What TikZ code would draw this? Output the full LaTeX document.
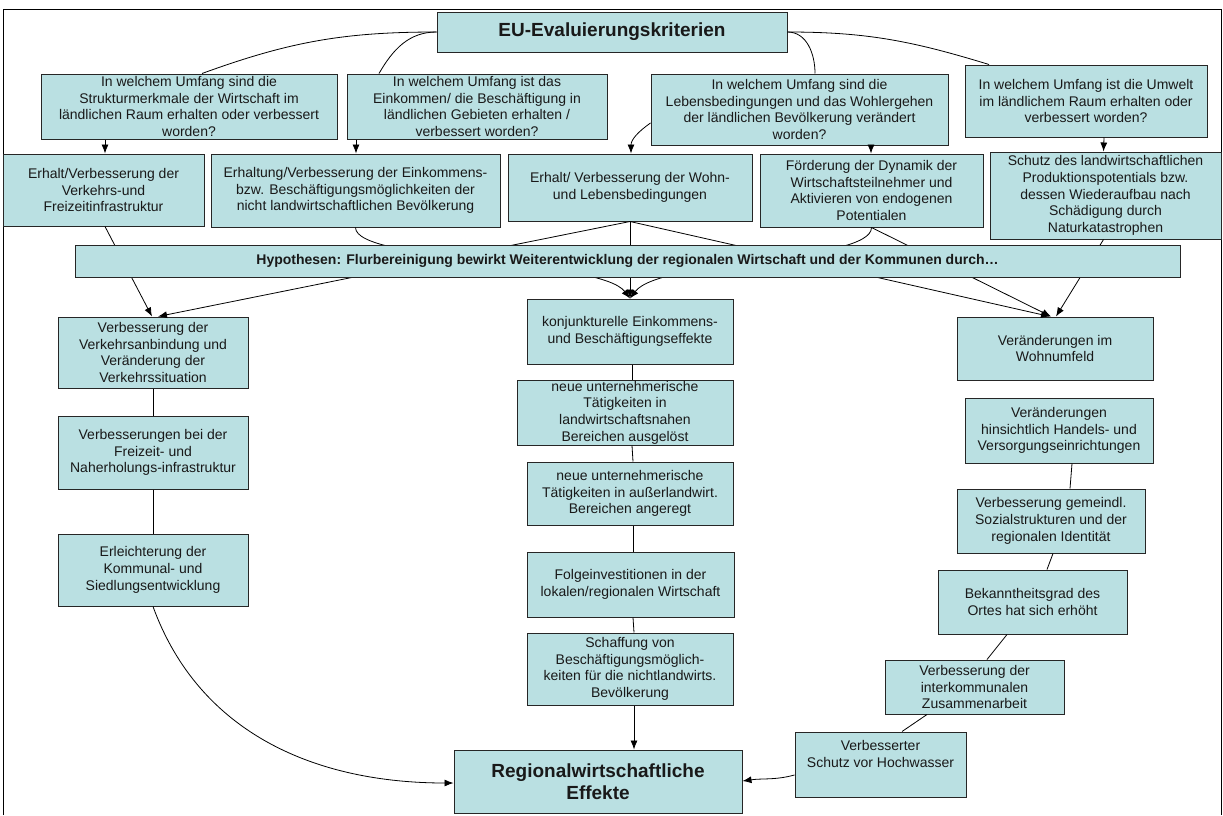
\documentclass[tikz,border=0pt]{standalone}
\usepackage{fontspec}
\setmainfont{Liberation Sans}
\usetikzlibrary{arrows.meta}
\definecolor{boxfill}{RGB}{186,224,226}
\begin{document}
\begin{tikzpicture}[x=1pt,y=1pt,
  box/.style={draw=black!85, line width=1pt, fill=boxfill, align=center, inner sep=0pt,
    font=\fontsize{14}{16.7}\selectfont, text=black!90},
  con/.style={line width=0.8pt, black},
  arr/.style={con, -{Latex[length=9pt,width=7pt]}},
]
\useasboundingbox (0,0) rectangle (1223,-815);
\draw[line width=0.8pt] (3,-815) -- (3,-9) -- (1221,-9) -- (1221,-815);

% top
\node[box, minimum width=350pt, minimum height=40pt, font=\fontsize{19}{22}\selectfont\bfseries] (eu) at (612,-32) {EU-Evaluierungskriterien};
\node[box, minimum width=296pt, minimum height=65pt] (q1) at (189,-106.5) {In welchem Umfang sind die\\Strukturmerkmale der Wirtschaft im\\ländlichen Raum erhalten oder verbessert\\worden?};
\node[box, minimum width=260pt, minimum height=65pt] (q2) at (477,-106.5) {In welchem Umfang ist das\\Einkommen/ die Beschäftigung in\\ländlichen Gebieten erhalten /\\verbessert worden?};
\node[box, minimum width=297pt, minimum height=71pt] (q3) at (799.5,-109.5) {In welchem Umfang sind die\\Lebensbedingungen und das Wohlergehen\\der ländlichen Bevölkerung verändert\\worden?};
\node[box, minimum width=242pt, minimum height=72pt] (q4) at (1086,-101) {In welchem Umfang ist die Umwelt\\im ländlichem Raum erhalten oder\\verbessert worden?};

% row 2
\node[box, minimum width=201pt, minimum height=72pt] (a) at (103.5,-190) {Erhalt/Verbesserung der\\Verkehrs-und\\Freizeitinfrastruktur};
\node[box, minimum width=289pt, minimum height=73pt] (b) at (355.5,-190.5) {Erhaltung/Verbesserung der Einkommens-\\bzw. Beschäftigungsmöglichkeiten der\\nicht landwirtschaftlichen Bevölkerung};
\node[box, minimum width=244pt, minimum height=67pt] (c) at (630,-187.5) {Erhalt/ Verbesserung der Wohn-\\und Lebensbedingungen};
\node[box, minimum width=223pt, minimum height=73pt] (d) at (871.5,-190.5) {Förderung der Dynamik der\\Wirtschaftsteilnehmer und\\Aktivieren von endogenen\\Potentialen};
\node[box, minimum width=231pt, minimum height=87pt] (e) at (1105.5,-195.5) {Schutz des landwirtschaftlichen\\Produktionspotentials bzw.\\dessen Wiederaufbau nach\\Schädigung durch\\Naturkatastrophen};

% left column
\node[box, minimum width=190pt, minimum height=71pt] (l1) at (153,-352.5) {Verbesserung der\\Verkehrsanbindung und\\Veränderung der\\Verkehrssituation};
\node[box, minimum width=190pt, minimum height=73pt] (l2) at (153,-452.5) {Verbesserungen bei der\\Freizeit- und\\Naherholungs-infrastruktur};
\node[box, minimum width=190pt, minimum height=72pt] (l3) at (153,-570) {Erleichterung der\\Kommunal- und\\Siedlungsentwicklung};

% middle column
\node[box, minimum width=206pt, minimum height=65pt] (m1) at (630,-331.5) {konjunkturelle Einkommens-\\und Beschäftigungseffekte};
\node[box, minimum width=216pt, minimum height=65pt] (m2) at (625,-412.5) {neue unternehmerische\\Tätigkeiten in\\landwirtschaftsnahen\\Bereichen ausgelöst};
\node[box, minimum width=206pt, minimum height=63pt] (m3) at (630,-493.5) {neue unternehmerische\\Tätigkeiten in außerlandwirt.\\Bereichen angeregt};
\node[box, minimum width=207pt, minimum height=65pt] (m4) at (630.5,-584.5) {Folgeinvestitionen in der\\lokalen/regionalen Wirtschaft};
\node[box, minimum width=206pt, minimum height=72pt] (m5) at (630,-669) {Schaffung von\\Beschäftigungsmöglich-\\keiten für die nichtlandwirts.\\Bevölkerung};
\node[box, minimum width=288pt, minimum height=63pt, font=\fontsize{19}{21.7}\selectfont\bfseries] (reg) at (598,-781.5) {Regionalwirtschaftliche\\Effekte};

% right column
\node[box, minimum width=196pt, minimum height=63pt] (r1) at (1055,-348.5) {Veränderungen im\\Wohnumfeld};
\node[box, minimum width=188pt, minimum height=65pt] (r2) at (1059,-430.5) {Veränderungen\\hinsichtlich Handels- und\\Versorgungseinrichtungen};
\node[box, minimum width=188pt, minimum height=64pt] (r3) at (1051,-521) {Verbesserung gemeindl.\\Sozialstrukturen und der\\regionalen Identität};
\node[box, minimum width=189pt, minimum height=64pt] (r4) at (1032.5,-602) {Bekanntheitsgrad des\\Ortes hat sich erhöht};
\node[box, minimum width=179pt, minimum height=54pt] (r5) at (974.5,-687) {Verbesserung der\\interkommunalen\\Zusammenarbeit};
\node[box, minimum width=171pt, minimum height=65pt] (r6) at (880.5,-764.5) {Verbesserter\\Schutz vor Hochwasser\\\strut};

% EU curves
\draw[con] (eu.west) to[out=180,in=20] ([xshift=13pt]q1.north);
\draw[con] (eu.west) to[out=180,in=60] ([xshift=-98pt]q2.north);
\draw[con] (eu.east) to[out=0,in=90] ([xshift=15.5pt]q3.north);
\draw[con] (eu.east) to[out=0,in=163] ([xshift=-97pt]q4.north);

% questions to row 2
\draw[arr] ([xshift=-84pt]q1.south) -- ([xshift=1.5pt]a.north);
\draw[arr] ([xshift=-121pt]q2.south) -- ([xshift=0.5pt]b.north);
\draw[arr] ([yshift=-13.5pt]q3.west) to[out=215,in=90] ([xshift=1pt]c.north);
\draw[arr] ([xshift=71.5pt]q3.south) -- ([xshift=-0.5pt]d.north);
\draw[arr] ([xshift=18pt]q4.south) -- ([xshift=-2pt]e.north);

% row 2 to lower boxes (behind the bar)
\draw[arr] ([xshift=1.5pt]a.south) -- ([xshift=-1pt]l1.north);
\draw[arr] (c.south) -- ([xshift=5pt]l1.north);
\draw[arr] (b.south) .. controls +(0,-35) and +(-30,40) .. (m1.north);
\draw[arr] (c.south) -- (m1.north);
\draw[arr] (d.south) .. controls +(0,-35) and +(30,40) .. (m1.north);
\draw[arr] (c.south) -- ([xshift=-5pt]r1.north);
\draw[arr] (d.south) -- ([xshift=-4pt]r1.north);
\draw[arr] ([xshift=-2pt]e.south) -- ([xshift=1pt]r1.north);

\node[box, minimum width=1105pt, minimum height=32pt, font=\fontsize{14}{16}\selectfont\bfseries] (bar) at (627.5,-261) {Hypothesen: Flurbereinigung bewirkt Weiterentwicklung der regionalen Wirtschaft und der Kommunen durch…};

% left chain
\draw[con] (l1.south) -- (l2.north);
\draw[con] (l2.south) -- (l3.north);
\draw[arr] (l3.south) to[out=-70,in=180] ([yshift=-1.5pt]reg.west);

% middle chain
\draw[con] ([xshift=2pt]m1.south) -- ([xshift=7pt]m2.north);
\draw[con] ([xshift=7pt]m2.south) -- ([xshift=3pt]m3.north);
\draw[con] ([xshift=3pt]m3.south) -- ([xshift=2.5pt]m4.north);
\draw[con] ([xshift=2.5pt]m4.south) -- ([xshift=4pt]m5.north);
\draw[arr] ([xshift=4pt]m5.south) -- ([xshift=36pt]reg.north);

% right chain
\draw[con] ([xshift=13pt]r2.south) -- ([xshift=19pt]r3.north);
\draw[con] ([xshift=2pt]r3.south) -- ([xshift=14.5pt]r4.north);
\draw[con] ([xshift=-25.5pt]r4.south) -- ([xshift=12.5pt]r5.north);
\draw[con] ([xshift=-47.5pt]r5.south) -- ([xshift=21.5pt]r6.north);
\draw[arr] ([yshift=-10.5pt]r6.west) to[out=195,in=8] ([yshift=0.5pt]reg.east);
\end{tikzpicture}
\end{document}
